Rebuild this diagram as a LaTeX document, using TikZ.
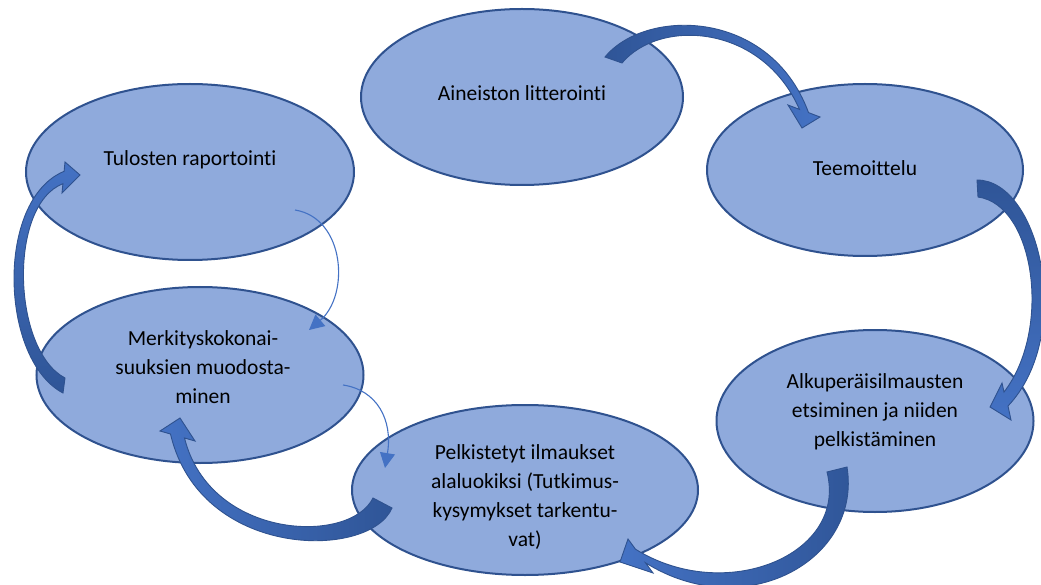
\documentclass[tikz,border=0pt]{standalone}
\usepackage{fontspec}
\setmainfont{Carlito}[Ligatures=NoCommon]
\usetikzlibrary{shapes.geometric,arrows.meta}
\definecolor{elfill}{HTML}{8FAADC}
\definecolor{elline}{HTML}{2F528F}
\definecolor{ardark}{HTML}{2F5597}
\definecolor{arlight}{HTML}{4472C4}
\tikzset{
  bubble/.style={ellipse, draw=elline, line width=2pt, fill=elfill, inner sep=0pt},
  label/.style={align=center, inner sep=0pt, font=\fontsize{21.5}{28.8}\selectfont, text=black},
  blockarrow/.style={draw=elline, line width=0.9pt, line join=miter},
  thinarrow/.style={draw=arlight, line width=1.1pt, -{Triangle[length=15pt,width=15pt]}}
}
\begin{document}
\begin{tikzpicture}[x=1pt,y=-1pt]
\useasboundingbox (0,0) rectangle (1041,585);
\clip (0,0) rectangle (1041,585);
% ellipses
\node[bubble, minimum width=322pt, minimum height=176pt] (e1) at (522,97) {};
\node[bubble, minimum width=316pt, minimum height=172pt] (e2) at (865,170) {};
\node[bubble, minimum width=317pt, minimum height=182pt] (e3) at (875,421) {};
\node[bubble, minimum width=346pt, minimum height=170pt] (e4) at (525,490) {};
\node[bubble, minimum width=327pt, minimum height=176pt] (e5) at (200,375) {};
\node[bubble, minimum width=328pt, minimum height=176pt] (e6) at (190,172) {};
% texts
\node[label] (t1) at (522,93) {Aineiston litterointi};
\node[label] (t2) at (865,168) {Teemoittelu};
\node[label] (t3) at (875,412) {Alkuperäisilmausten\\etsiminen ja niiden\\pelkistäminen};
\node[label] (t4) at (525,497) {Pelkistetyt ilmaukset\\alaluokiksi (Tutkimus-\\kysymykset tarkentu-\\vat)};
\node[label] (t5) at (203,367) {Merkityskokonai-\\suuksien muodosta-\\minen};
\node[label] (t6) at (190,160) {Tulosten raportointi};
% block arrows
\path[blockarrow, left color=ardark, right color=arlight]
  (605,57) .. controls (645,8) and (770,8) .. (808.5,112.6) -- (820,117) -- (802,128) -- (788,105) -- (799.5,109.4)
  .. controls (762,24) and (660,18) .. (622,63) -- cycle;
\path[blockarrow, top color=ardark, bottom color=arlight]
  (977,180) .. controls (1040,180) and (1075,335) .. (1008,406) -- (1011,420) -- (990,407) -- (1002,383) -- (1004,392)
  .. controls (1052,330) and (1035,205) .. (978,197) -- cycle;
\path[blockarrow, right color=ardark, left color=arlight]
  (847,467) .. controls (862,560) and (745,625) .. (645.5,562.8) -- (653,573) -- (620,562) -- (628,539) -- (635.5,549.2)
  .. controls (725,605) and (848,555) .. (827,472) -- cycle;
\path[blockarrow, right color=ardark, left color=arlight]
  (392,508) .. controls (370,560) and (200,560) .. (170.5,434) -- (160,431) -- (180,418) -- (195,441) -- (184.5,438)
  .. controls (210,540) and (350,545) .. (373,498) -- cycle;
\path[blockarrow, bottom color=ardark, top color=arlight]
  (63,393) .. controls (0,360) and (-5,200) .. (64.1,171.3) -- (65,162) -- (80,175) -- (62,193) -- (62.9,183.7)
  .. controls (8,205) and (12,350) .. (65,378) -- cycle;
% thin arrows
\coordinate (s1) at (295,210);
\coordinate (f1) at (309,330);
\coordinate (s2) at (343,385);
\coordinate (f2) at (385,468);
\draw[thinarrow] (s1) .. controls (345,218) and (350,295) .. (f1);
\draw[thinarrow] (s2) .. controls (377,390) and (393,420) .. (f2);
\end{tikzpicture}
\end{document}
